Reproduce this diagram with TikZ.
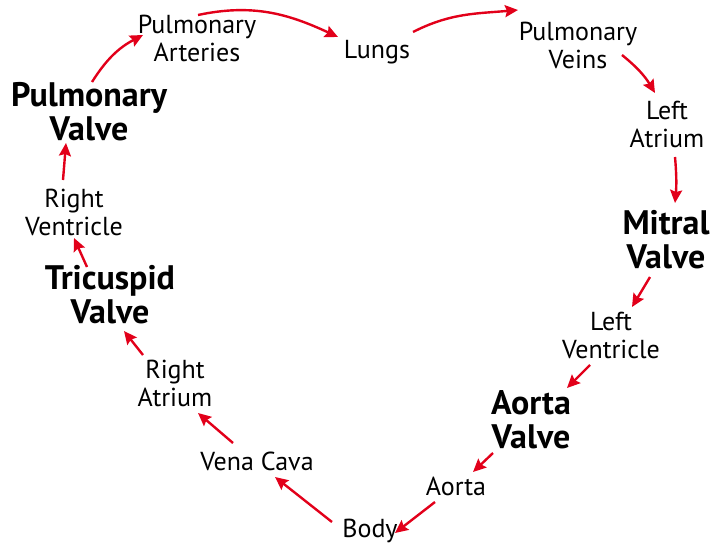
\documentclass[tikz,border=0pt]{standalone}
\usepackage{fontspec}
\setmainfont{PT Sans}
\usepackage{tikz}
\usetikzlibrary{arrows.meta}
\definecolor{heartred}{HTML}{E2001A}

\begin{document}
\begin{tikzpicture}[x=1pt,y=1pt,
    organ/.style={align=center,inner sep=0pt,font=\fontsize{26}{28}\selectfont},
    valve/.style={align=center,inner sep=0pt,font=\fontsize{34}{34}\selectfont\bfseries},
    flow/.style={draw=heartred,line width=2.4pt,-{Stealth[length=13pt,width=12pt,inset=2pt]}}]
    \useasboundingbox (0,0) rectangle (710,-544);

    % right heart and lungs
    \node[valve] (pvalve) at (89,-112) {Pulmonary\\Valve};
    \node[organ] (part) at (197,-38) {Pulmonary\\Arteries};
    \node[organ] (lungs) at (377,-52) {Lungs};
    \node[organ] (pveins) at (578,-45) {Pulmonary\\Veins};
    \node[organ] (latrium) at (667,-124) {Left\\Atrium};
    \node[valve] (mitral) at (666,-240) {Mitral\\Valve};
    \node[organ] (lvent) at (611,-335) {Left\\Ventricle};
    \node[valve] (aortav) at (531,-420) {Aorta\\Valve};
    \node[organ] (aorta) at (456,-486) {Aorta};
    \node[organ] (body) at (370,-531) {Body};
    \node[organ] (vcava) at (257,-461) {Vena Cava};
    \node[organ] (ratrium) at (175,-383) {Right\\Atrium};
    \node[valve] (tricusp) at (110,-295) {Tricuspid\\Valve};
    \node[organ] (rvent) at (74,-212) {Right\\Ventricle};

    \draw[flow] ([shift={(3,30)}]pvalve.center) to[bend left=15] ([shift={(-54,3)}]part.center);
    \draw[flow] ([shift={(1,23)}]part.center) to[out=12,in=155] ([shift={(-39,15)}]lungs.center);
    \draw[flow] ([shift={(36,20)}]lungs.center) to[out=27,in=185] ([shift={(-60,35)}]pveins.center);
    \draw[flow] ([shift={(44,-10)}]pveins.center) to[bend left=10] ([shift={(-12,31)}]latrium.center);
    \draw[flow] ([shift={(8,-33)}]latrium.center) to[bend left=5] ([shift={(9,37)}]mitral.center);
    \draw[flow] ([shift={(-16,-37)}]mitral.center) -- ([shift={(21,28)}]lvent.center);
    \draw[flow] ([shift={(-21,-30)}]lvent.center) -- ([shift={(36,32)}]aortav.center);
    \draw[flow] ([shift={(-38,-33)}]aortav.center) -- ([shift={(17,14)}]aorta.center);
    \draw[flow] ([shift={(-21,-16)}]aorta.center) -- ([shift={(25,-2)}]body.center);
    \draw[flow] ([shift={(-38,9)}]body.center) -- ([shift={(18,-16)}]vcava.center);
    \draw[flow] ([shift={(-24,18)}]vcava.center) -- ([shift={(23,-30)}]ratrium.center);
    \draw[flow] ([shift={(-32,28)}]ratrium.center) -- ([shift={(14,-36)}]tricusp.center);
    \draw[flow] ([shift={(-23,28)}]tricusp.center) -- ([shift={(0,-26)}]rvent.center);
    \draw[flow] ([shift={(-11,32)}]rvent.center) -- ([shift={(-23,-31)}]pvalve.center);
\end{tikzpicture}
\end{document}
